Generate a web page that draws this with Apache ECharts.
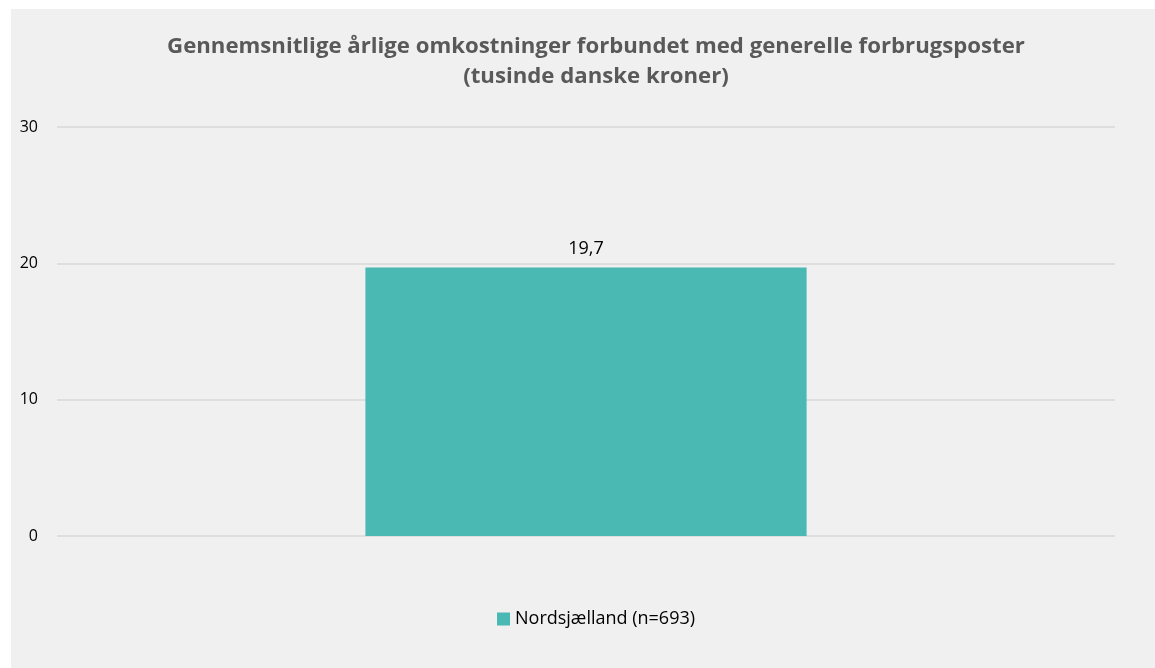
<!DOCTYPE html>
<html><head><meta charset="utf-8">
<script src="https://cdn.jsdelivr.net/npm/echarts@6/dist/echarts.min.js"></script>
<style>
html,body{margin:0;padding:0;background:#ffffff;width:1155px;height:668px;overflow:hidden;}
#c{position:absolute;left:11px;top:9px;width:1144px;height:659px;background:#f0f0f0;}
</style></head>
<body><div id="c"></div>
<script>
const titleText = 'Gennemsnitlige årlige omkostninger forbundet med generelle forbrugsposter\n(tusinde danske kroner)';
const categories = [''];
const seriesName = 'Nordsjælland (n=693)';
const values = [19.7];
const yTicks = {min: 0, max: 30, interval: 10};

const chart = echarts.init(document.getElementById('c'), null, {renderer: 'canvas'});
chart.setOption({
  backgroundColor: '#f0f0f0',
  animation: false,
  title: {
    text: titleText,
    left: 580,
    top: 18,
    textAlign: 'center',
    textStyle: {fontFamily: 'Open Sans', fontWeight: 'bold', fontSize: 22.2, color: '#595959', lineHeight: 30}
  },
  legend: {
    bottom: 35,
    left: 481,
    itemWidth: 13, itemHeight: 13, itemGap: 10,
    icon: 'rect',
    textStyle: {fontFamily: 'Open Sans', fontSize: 18, color: '#000000'},
    data: [seriesName]
  },
  grid: {left: 46, right: 40, top: 118, bottom: 132, containLabel: false},
  xAxis: {
    type: 'category', data: categories,
    axisLine: {show: false}, axisTick: {show: false}, axisLabel: {show: false}
  },
  yAxis: {
    type: 'value', min: yTicks.min, max: yTicks.max, interval: yTicks.interval,
    axisLine: {show: false}, axisTick: {show: false},
    axisLabel: {fontFamily: 'Open Sans', fontSize: 16, color: '#000000', margin: 19},
    splitLine: {lineStyle: {color: '#d9d9d9', width: 1.5}}
  },
  series: [{
    name: seriesName, type: 'bar', data: values, barWidth: '41.7%',
    itemStyle: {color: '#4ab8b3'},
    label: {show: true, position: 'top', distance: 10, fontFamily: 'Open Sans', fontSize: 18, color: '#000000',
      formatter: p => String(p.value).replace('.', ',')}
  }]
});
</script></body></html>
